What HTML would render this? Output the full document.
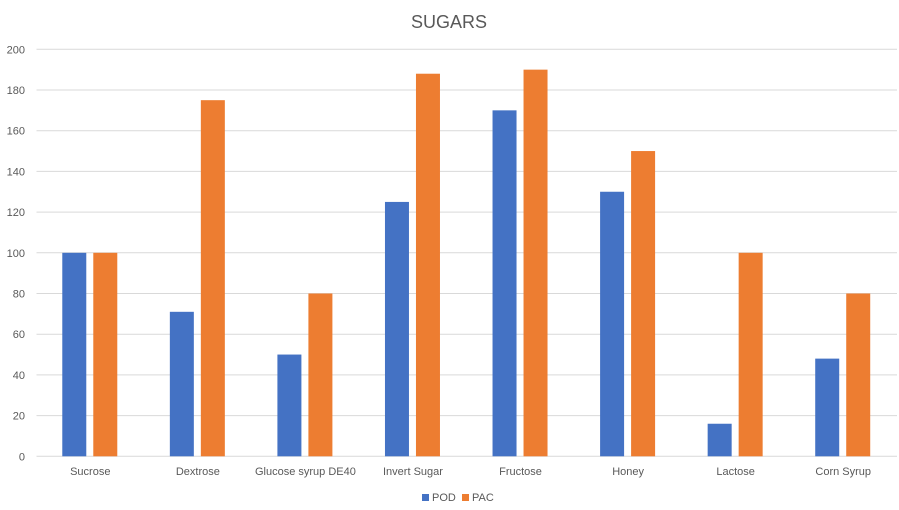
<!DOCTYPE html>
<html><head><meta charset="utf-8"><style>
body{margin:0;background:#fff;}
svg{display:block;font-family:"Liberation Sans",sans-serif;}
</style></head><body>
<svg id="chart" width="899" height="510">
<text x="449" y="28" text-anchor="middle" font-size="18" fill="#595959">SUGARS</text>
<g id="grid"></g><g id="bars"></g><g id="labels"></g>
<g>
<rect x="422" y="494" width="7" height="7" fill="#4472C4"/>
<text x="432" y="501" font-size="11" fill="#595959">POD</text>
<rect x="462" y="494" width="7" height="7" fill="#ED7D31"/>
<text x="472" y="501" font-size="11" fill="#595959">PAC</text>
</g>
</svg>
<script>
const categories=["Sucrose","Dextrose","Glucose syrup DE40","Invert Sugar","Fructose","Honey","Lactose","Corn Syrup"];
const pod=[100,71,50,125,170,130,16,48];
const pac=[100,175,80,188,190,150,100,80];
const ticks=[0,20,40,60,80,100,120,140,160,180,200];
const NS="http://www.w3.org/2000/svg";
const L=36.5,R=897,T=49.3,B=456.3;
const y=v=>B-(v/200)*(B-T);
const cw=(R-L)/categories.length;
const x=i=>L+cw*(i+0.5);
function mk(t,a,p){const e=document.createElementNS(NS,t);for(const k in a)e.setAttribute(k,a[k]);p.appendChild(e);return e;}
const g=document.getElementById('grid'),b=document.getElementById('bars'),lb=document.getElementById('labels');
ticks.forEach(v=>{
 const ln=mk('line',{x1:L,x2:R,y1:y(v),y2:y(v),stroke:'#d9d9d9','stroke-width':1},g);
 
 
 const t=mk('text',{x:25,y:y(v)+4,'text-anchor':'end','font-size':11,fill:'#595959'},lb);
 t.textContent=v;
 
 
});
categories.forEach((c,i)=>{
 const cx=x(i);
 const r1=mk('rect',{x:cx-28,y:y(pod[i]),width:24,height:B-y(pod[i]),fill:'#4472C4'},b);
 
 
 const r2=mk('rect',{x:cx+3,y:y(pac[i]),width:24,height:B-y(pac[i]),fill:'#ED7D31'},b);
 
 
 const t=mk('text',{x:cx,y:475,'text-anchor':'middle','font-size':11,fill:'#595959'},lb);
 t.textContent=c;
 
 
});
</script>
</body></html>
